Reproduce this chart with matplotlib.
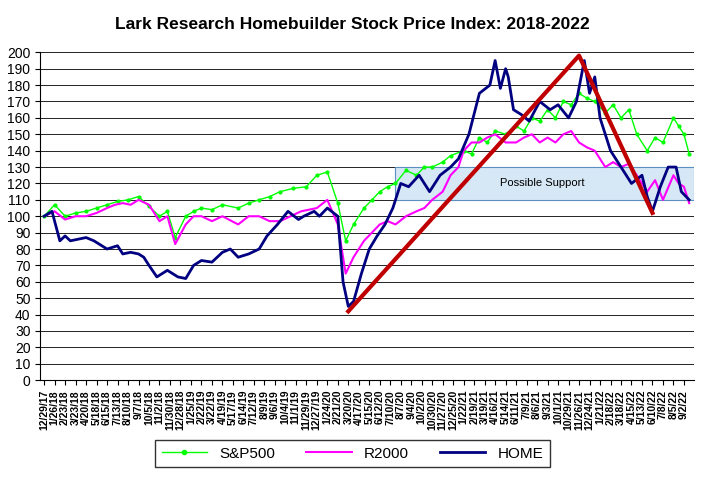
import matplotlib
matplotlib.use("Agg")
import matplotlib.pyplot as plt
import pandas as pd

start = pd.Timestamp("2017-12-29")
tick_labels = [(start + pd.Timedelta(weeks=4*i)) for i in range(62)]
tick_labels = [f"{d.month}/{d.day}/{d.strftime('%y')}" for d in tick_labels]

home_w = [0,3,6,8,10,13,16,19,21,24,28,30,33,36,38,40,43,47,51,54,57,60,64,68,71,74,78,82,85,89,93,97,99,103,105,108,112,114,116,118,121,124,127,130,133,136,139,143,147,151,155,158,162,166,170,172,174,176,177,179,182,185,189,193,196,200,203,206,208,210,212,216,220,224,228,230,232,235,238,241,243,246]
home_v = [100,103,85,88,85,86,87,85,83,80,82,77,78,77,75,70,63,67,63,62,70,73,72,78,80,75,77,80,88,95,103,98,100,103,100,105,100,60,45,48,65,80,88,95,105,120,118,125,115,125,130,135,150,175,180,195,178,190,185,165,162,158,170,165,168,160,170,195,175,185,160,140,130,120,125,112,103,118,130,130,115,110]
sp_w = [0,4,8,12,16,20,24,28,32,36,40,44,47,50,54,57,60,64,68,74,78,82,86,90,95,100,104,108,112,115,118,122,125,128,131,134,138,142,145,148,152,155,160,163,166,169,172,176,180,183,186,189,192,195,198,201,204,207,210,214,217,220,223,226,230,233,236,240,242,244,246]
sp_v = [100,107,100,102,103,105,107,109,110,112,106,100,103,87,100,103,105,104,107,105,108,110,112,115,117,118,125,127,108,85,95,105,110,115,118,120,128,125,130,130,133,137,140,138,148,145,152,150,155,152,160,158,165,160,170,168,175,172,170,163,168,160,165,150,140,148,145,160,155,150,138]
r2_w = [0,4,8,12,16,20,24,27,30,33,36,40,44,47,50,54,57,60,64,68,74,78,82,86,90,94,98,104,108,112,115,118,122,125,128,131,134,138,142,145,148,152,155,158,160,163,166,169,172,176,180,183,186,189,192,195,198,201,204,207,210,214,217,220,223,226,230,233,236,240,242,244,246]
r2_v = [100,103,98,100,100,102,105,107,108,107,110,107,97,100,83,95,100,100,97,100,95,100,100,97,97,100,103,105,110,95,65,75,85,90,95,97,95,100,103,105,110,115,125,130,140,145,145,148,150,145,145,148,150,145,148,145,150,152,145,142,140,130,133,130,132,125,115,122,110,125,120,118,108]
trend_w = [116,204,232]
trend_v = [42,198,102]
support_low, support_high, support_start = 110, 130, 134

fig = plt.figure(figsize=(7.05,4.8), dpi=100)
ax = fig.add_axes([0.057,0.208,0.928,0.683])
ax.axhspan(support_low, support_high, xmin=(support_start+1.5)/249.5, xmax=1, facecolor="#d6e8f5", edgecolor="#5a8fc0", lw=0.8, zorder=1)
ax.text(190, 120, "Possible Support", ha="center", va="center", fontsize=8, family="Liberation Sans", zorder=2)
ax.plot(sp_w, sp_v, color="#00ff00", lw=1, marker="o", ms=2, zorder=3)
ax.plot(r2_w, r2_v, color="#ff00ff", lw=1.5, zorder=4)
ax.plot(home_w, home_v, color="#000080", lw=2, zorder=5)
ax.plot(trend_w, trend_v, color="#c00000", lw=3, zorder=6)
ax.set_xlim(-1.5, 248)
ax.set_ylim(0, 200)
ax.set_yticks(range(0,201,10))
ax.set_xticks([4*i for i in range(62)])
ax.set_xticklabels(tick_labels, rotation=90, fontsize=7.5, fontweight="bold", family="Liberation Sans")
ax.tick_params(axis="y", labelsize=10)
for l in ax.get_yticklabels(): l.set_family("Liberation Sans")
ax.grid(axis="y", color="black", lw=0.6)
ax.set_axisbelow(True)
for s in ["top","right"]: ax.spines[s].set_visible(False)
fig.suptitle("Lark Research Homebuilder Stock Price Index: 2018-2022", y=0.965, fontsize=12.5, fontweight="bold", family="Liberation Sans")
from matplotlib.lines import Line2D
handles = [Line2D([],[],color="#00ff00",marker="o",ms=3,lw=1),Line2D([],[],color="#ff00ff",lw=1.5),Line2D([],[],color="#000080",lw=2)]
fig.legend(handles, ["S&P500","R2000","HOME"], loc="center", bbox_to_anchor=(0.5,0.055), ncol=3, fancybox=False, edgecolor="black", prop={"family":"Liberation Sans","size":11}, handlelength=3)
fig.savefig("out.png")
